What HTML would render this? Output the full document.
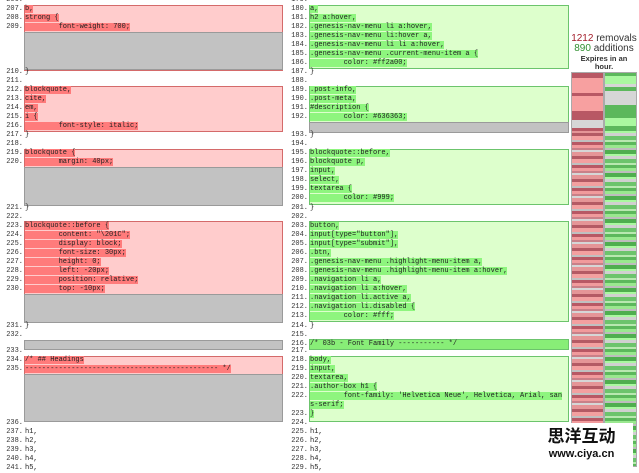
<!DOCTYPE html>
<html><head><meta charset="utf-8"><style>
*{margin:0;padding:0;box-sizing:border-box}
body{width:639px;height:467px;overflow:hidden;background:#fff;position:relative;font-family:"Liberation Mono",monospace;font-size:7px;color:#222}
.r{position:absolute;height:9px;line-height:9px;white-space:pre}
.nl{left:0;width:23px;text-align:right;color:#333}
.nr{left:280px;width:28px;text-align:right;color:#333}
.tl{left:25px}.tr{left:310px}
.bl{position:absolute;left:24px;width:259px;background:#ffcccc;border:1px solid #d46a6a}
.br{position:absolute;left:309px;width:260px;background:#ddffcc;border:1px solid #6cc46c}
.g{position:absolute;background:#c2c2c2;border:1px solid #9a9a9a}
.hr{background:#ff7b7b}.hg{background:#8ef57e}
.mm{position:absolute;top:72px;height:395px}
</style></head><body>

<div class="bl" style="top:5px;height:66px"></div><div class="g" style="left:24px;top:32px;width:259px;height:38px"></div>
<div class="bl" style="top:86px;height:46px"></div>
<div class="bl" style="top:149px;height:57px"></div><div class="g" style="left:24px;top:167px;width:259px;height:39px"></div>
<div class="bl" style="top:221px;height:102px"></div><div class="g" style="left:24px;top:294px;width:259px;height:29px"></div>
<div class="g" style="left:24px;top:340px;width:259px;height:10px"></div>
<div class="bl" style="top:356px;height:66px"></div><div class="g" style="left:24px;top:374px;width:259px;height:48px"></div>

<div class="br" style="top:5px;height:64px"></div>
<div class="br" style="top:86px;height:47px"></div><div class="g" style="left:309px;top:122px;width:260px;height:11px"></div>
<div class="br" style="top:149px;height:56px"></div>
<div class="br" style="top:221px;height:101px"></div>
<div class="br" style="top:339px;height:11px;background:#88ee77"></div>
<div class="br" style="top:356px;height:66px"></div>

<div class="r nl" style="top:-4px">206.</div>
<div class="r nl" style="top:5px">207.</div><div class="r tl" style="top:5px"><span class="hr">b,</span></div>
<div class="r nl" style="top:14px">208.</div><div class="r tl" style="top:14px"><span class="hr">strong {</span></div>
<div class="r nl" style="top:23px">209.</div><div class="r tl" style="top:23px"><span class="hr">        font-weight: 700;</span></div>
<div class="r nl" style="top:68px">210.</div><div class="r tl" style="top:68px">}</div>
<div class="r nl" style="top:77px">211.</div>
<div class="r nl" style="top:86px">212.</div><div class="r tl" style="top:86px"><span class="hr">blockquote,</span></div>
<div class="r nl" style="top:95px">213.</div><div class="r tl" style="top:95px"><span class="hr">cite,</span></div>
<div class="r nl" style="top:104px">214.</div><div class="r tl" style="top:104px"><span class="hr">em,</span></div>
<div class="r nl" style="top:113px">215.</div><div class="r tl" style="top:113px"><span class="hr">i {</span></div>
<div class="r nl" style="top:122px">216.</div><div class="r tl" style="top:122px"><span class="hr">        font-style: italic;</span></div>
<div class="r nl" style="top:131px">217.</div><div class="r tl" style="top:131px">}</div>
<div class="r nl" style="top:140px">218.</div>
<div class="r nl" style="top:149px">219.</div><div class="r tl" style="top:149px"><span class="hr">blockquote {</span></div>
<div class="r nl" style="top:158px">220.</div><div class="r tl" style="top:158px"><span class="hr">        margin: 40px;</span></div>
<div class="r nl" style="top:204px">221.</div><div class="r tl" style="top:204px">}</div>
<div class="r nl" style="top:213px">222.</div>
<div class="r nl" style="top:222px">223.</div><div class="r tl" style="top:222px"><span class="hr">blockquote::before {</span></div>
<div class="r nl" style="top:231px">224.</div><div class="r tl" style="top:231px"><span class="hr">        content: "\201C";</span></div>
<div class="r nl" style="top:240px">225.</div><div class="r tl" style="top:240px"><span class="hr">        display: block;</span></div>
<div class="r nl" style="top:249px">226.</div><div class="r tl" style="top:249px"><span class="hr">        font-size: 30px;</span></div>
<div class="r nl" style="top:258px">227.</div><div class="r tl" style="top:258px"><span class="hr">        height: 0;</span></div>
<div class="r nl" style="top:267px">228.</div><div class="r tl" style="top:267px"><span class="hr">        left: -20px;</span></div>
<div class="r nl" style="top:276px">229.</div><div class="r tl" style="top:276px"><span class="hr">        position: relative;</span></div>
<div class="r nl" style="top:285px">230.</div><div class="r tl" style="top:285px"><span class="hr">        top: -10px;</span></div>
<div class="r nl" style="top:322px">231.</div><div class="r tl" style="top:322px">}</div>
<div class="r nl" style="top:331px">232.</div>
<div class="r nl" style="top:347px">233.</div>
<div class="r nl" style="top:356px">234.</div><div class="r tl" style="top:356px"><span class="hr">/* ## Headings</span></div>
<div class="r nl" style="top:365px">235.</div><div class="r tl" style="top:365px"><span class="hr">---------------------------------------------- */</span></div>
<div class="r nl" style="top:419px">236.</div>
<div class="r nl" style="top:428px">237.</div><div class="r tl" style="top:428px">h1,</div>
<div class="r nl" style="top:437px">238.</div><div class="r tl" style="top:437px">h2,</div>
<div class="r nl" style="top:446px">239.</div><div class="r tl" style="top:446px">h3,</div>
<div class="r nl" style="top:455px">240.</div><div class="r tl" style="top:455px">h4,</div>
<div class="r nl" style="top:464px">241.</div><div class="r tl" style="top:464px">h5,</div>

<div class="r nr" style="top:-4px">179.</div>
<div class="r nr" style="top:5px">180.</div><div class="r tr" style="top:5px"><span class="hg">a,</span></div>
<div class="r nr" style="top:14px">181.</div><div class="r tr" style="top:14px"><span class="hg">h2 a:hover,</span></div>
<div class="r nr" style="top:23px">182.</div><div class="r tr" style="top:23px"><span class="hg">.genesis-nav-menu li a:hover,</span></div>
<div class="r nr" style="top:32px">183.</div><div class="r tr" style="top:32px"><span class="hg">.genesis-nav-menu li:hover a,</span></div>
<div class="r nr" style="top:41px">184.</div><div class="r tr" style="top:41px"><span class="hg">.genesis-nav-menu li li a:hover,</span></div>
<div class="r nr" style="top:50px">185.</div><div class="r tr" style="top:50px"><span class="hg">.genesis-nav-menu .current-menu-item a {</span></div>
<div class="r nr" style="top:59px">186.</div><div class="r tr" style="top:59px"><span class="hg">        color: #ff2a00;</span></div>
<div class="r nr" style="top:68px">187.</div><div class="r tr" style="top:68px">}</div>
<div class="r nr" style="top:77px">188.</div>
<div class="r nr" style="top:86px">189.</div><div class="r tr" style="top:86px"><span class="hg">.post-info,</span></div>
<div class="r nr" style="top:95px">190.</div><div class="r tr" style="top:95px"><span class="hg">.post-meta,</span></div>
<div class="r nr" style="top:104px">191.</div><div class="r tr" style="top:104px"><span class="hg">#description {</span></div>
<div class="r nr" style="top:113px">192.</div><div class="r tr" style="top:113px"><span class="hg">        color: #636363;</span></div>
<div class="r nr" style="top:131px">193.</div><div class="r tr" style="top:131px">}</div>
<div class="r nr" style="top:140px">194.</div>
<div class="r nr" style="top:149px">195.</div><div class="r tr" style="top:149px"><span class="hg">blockquote::before,</span></div>
<div class="r nr" style="top:158px">196.</div><div class="r tr" style="top:158px"><span class="hg">blockquote p,</span></div>
<div class="r nr" style="top:167px">197.</div><div class="r tr" style="top:167px"><span class="hg">input,</span></div>
<div class="r nr" style="top:176px">198.</div><div class="r tr" style="top:176px"><span class="hg">select,</span></div>
<div class="r nr" style="top:185px">199.</div><div class="r tr" style="top:185px"><span class="hg">textarea {</span></div>
<div class="r nr" style="top:194px">200.</div><div class="r tr" style="top:194px"><span class="hg">        color: #999;</span></div>
<div class="r nr" style="top:204px">201.</div><div class="r tr" style="top:204px">}</div>
<div class="r nr" style="top:213px">202.</div>
<div class="r nr" style="top:222px">203.</div><div class="r tr" style="top:222px"><span class="hg">button,</span></div>
<div class="r nr" style="top:231px">204.</div><div class="r tr" style="top:231px"><span class="hg">input[type="button"],</span></div>
<div class="r nr" style="top:240px">205.</div><div class="r tr" style="top:240px"><span class="hg">input[type="submit"],</span></div>
<div class="r nr" style="top:249px">206.</div><div class="r tr" style="top:249px"><span class="hg">.btn,</span></div>
<div class="r nr" style="top:258px">207.</div><div class="r tr" style="top:258px"><span class="hg">.genesis-nav-menu .highlight-menu-item a,</span></div>
<div class="r nr" style="top:267px">208.</div><div class="r tr" style="top:267px"><span class="hg">.genesis-nav-menu .highlight-menu-item a:hover,</span></div>
<div class="r nr" style="top:276px">209.</div><div class="r tr" style="top:276px"><span class="hg">.navigation li a,</span></div>
<div class="r nr" style="top:285px">210.</div><div class="r tr" style="top:285px"><span class="hg">.navigation li a:hover,</span></div>
<div class="r nr" style="top:294px">211.</div><div class="r tr" style="top:294px"><span class="hg">.navigation li.active a,</span></div>
<div class="r nr" style="top:303px">212.</div><div class="r tr" style="top:303px"><span class="hg">.navigation li.disabled {</span></div>
<div class="r nr" style="top:312px">213.</div><div class="r tr" style="top:312px"><span class="hg">        color: #fff;</span></div>
<div class="r nr" style="top:322px">214.</div><div class="r tr" style="top:322px">}</div>
<div class="r nr" style="top:331px">215.</div>
<div class="r nr" style="top:340px">216.</div><div class="r tr" style="top:340px">/* 03b - Font Family ----------- */</div>
<div class="r nr" style="top:347px">217.</div>
<div class="r nr" style="top:356px">218.</div><div class="r tr" style="top:356px"><span class="hg">body,</span></div>
<div class="r nr" style="top:365px">219.</div><div class="r tr" style="top:365px"><span class="hg">input,</span></div>
<div class="r nr" style="top:374px">220.</div><div class="r tr" style="top:374px"><span class="hg">textarea,</span></div>
<div class="r nr" style="top:383px">221.</div><div class="r tr" style="top:383px"><span class="hg">.author-box h1 {</span></div>
<div class="r nr" style="top:392px">222.</div><div class="r tr" style="top:392px"><span class="hg">        font-family: 'Helvetica Neue', Helvetica, Arial, san</span></div>
<div class="r tr" style="top:401px"><span class="hg">s-serif;</span></div>
<div class="r nr" style="top:410px">223.</div><div class="r tr" style="top:410px"><span class="hg">}</span></div>
<div class="r nr" style="top:419px">224.</div>
<div class="r nr" style="top:428px">225.</div><div class="r tr" style="top:428px">h1,</div>
<div class="r nr" style="top:437px">226.</div><div class="r tr" style="top:437px">h2,</div>
<div class="r nr" style="top:446px">227.</div><div class="r tr" style="top:446px">h3,</div>
<div class="r nr" style="top:455px">228.</div><div class="r tr" style="top:455px">h4,</div>
<div class="r nr" style="top:464px">229.</div><div class="r tr" style="top:464px">h5,</div>

<div style="position:absolute;left:569px;width:70px;top:34px;text-align:center;font-family:'Liberation Sans',sans-serif;font-size:10px;line-height:10px;color:#333">
<div><span style="color:#a31d2a">1212</span> removals</div>
<div><span style="color:#2f8f2f">890</span> additions</div>
<div style="font-size:7.5px;font-weight:bold;line-height:8px;margin-top:1px">Expires in an<br>hour.</div>
</div>

<div class="mm" style="left:571px;width:33px;border:1px solid #aaa;background:
linear-gradient(#b85864 0 5px,#f7a0a0 5px 20px,#b85864 20px 23px,#f7a0a0 23px 38px,#b85864 38px 47px,#d6d6d6 47px 55px,#b85864 55px 58px) top/100% 58px no-repeat,
repeating-linear-gradient(#b85864 0 3px,#f19a9c 3px 6px,#c98088 6px 8px,#d6d6d6 8px 10px,#e59597 10px 14px,#b45a64 14px 17px,#f3a0a0 17px 21px,#c0c0c0 21px 23px)"></div>
<div class="mm" style="left:604px;width:33px;border:1px solid #aaa;background:
linear-gradient(#5cb85c 0 3px,#aaf8a0 3px 11px,#d6d6d6 11px 14px,#5cb85c 14px 18px,#d6d6d6 18px 32px,#5cb85c 32px 45px,#aaf8a0 45px 53px,#5cb85c 53px 58px) top/100% 58px no-repeat,
repeating-linear-gradient(#5cb85c 0 3px,#9ae88f 3px 6px,#bdbdbd 6px 8px,#4fae4f 8px 12px,#aaf8a0 12px 14px,#d0d0d0 14px 17px,#6cc46c 17px 21px,#b8e8b0 21px 23px)"></div>

<div style="position:absolute;left:530px;top:423px;width:103px;height:44px;background:#fff"></div>
<div style="position:absolute;left:530px;top:424px;width:103px;text-align:center;font-family:'Noto Sans CJK SC',sans-serif;font-weight:bold;font-size:17px;line-height:22px;color:#111">思洋互动</div>
<div style="position:absolute;left:530px;top:447px;width:103px;text-align:center;font-family:'Liberation Sans',sans-serif;font-weight:bold;font-size:11px;line-height:14px;color:#111">www.ciya.cn</div>
</body></html>
